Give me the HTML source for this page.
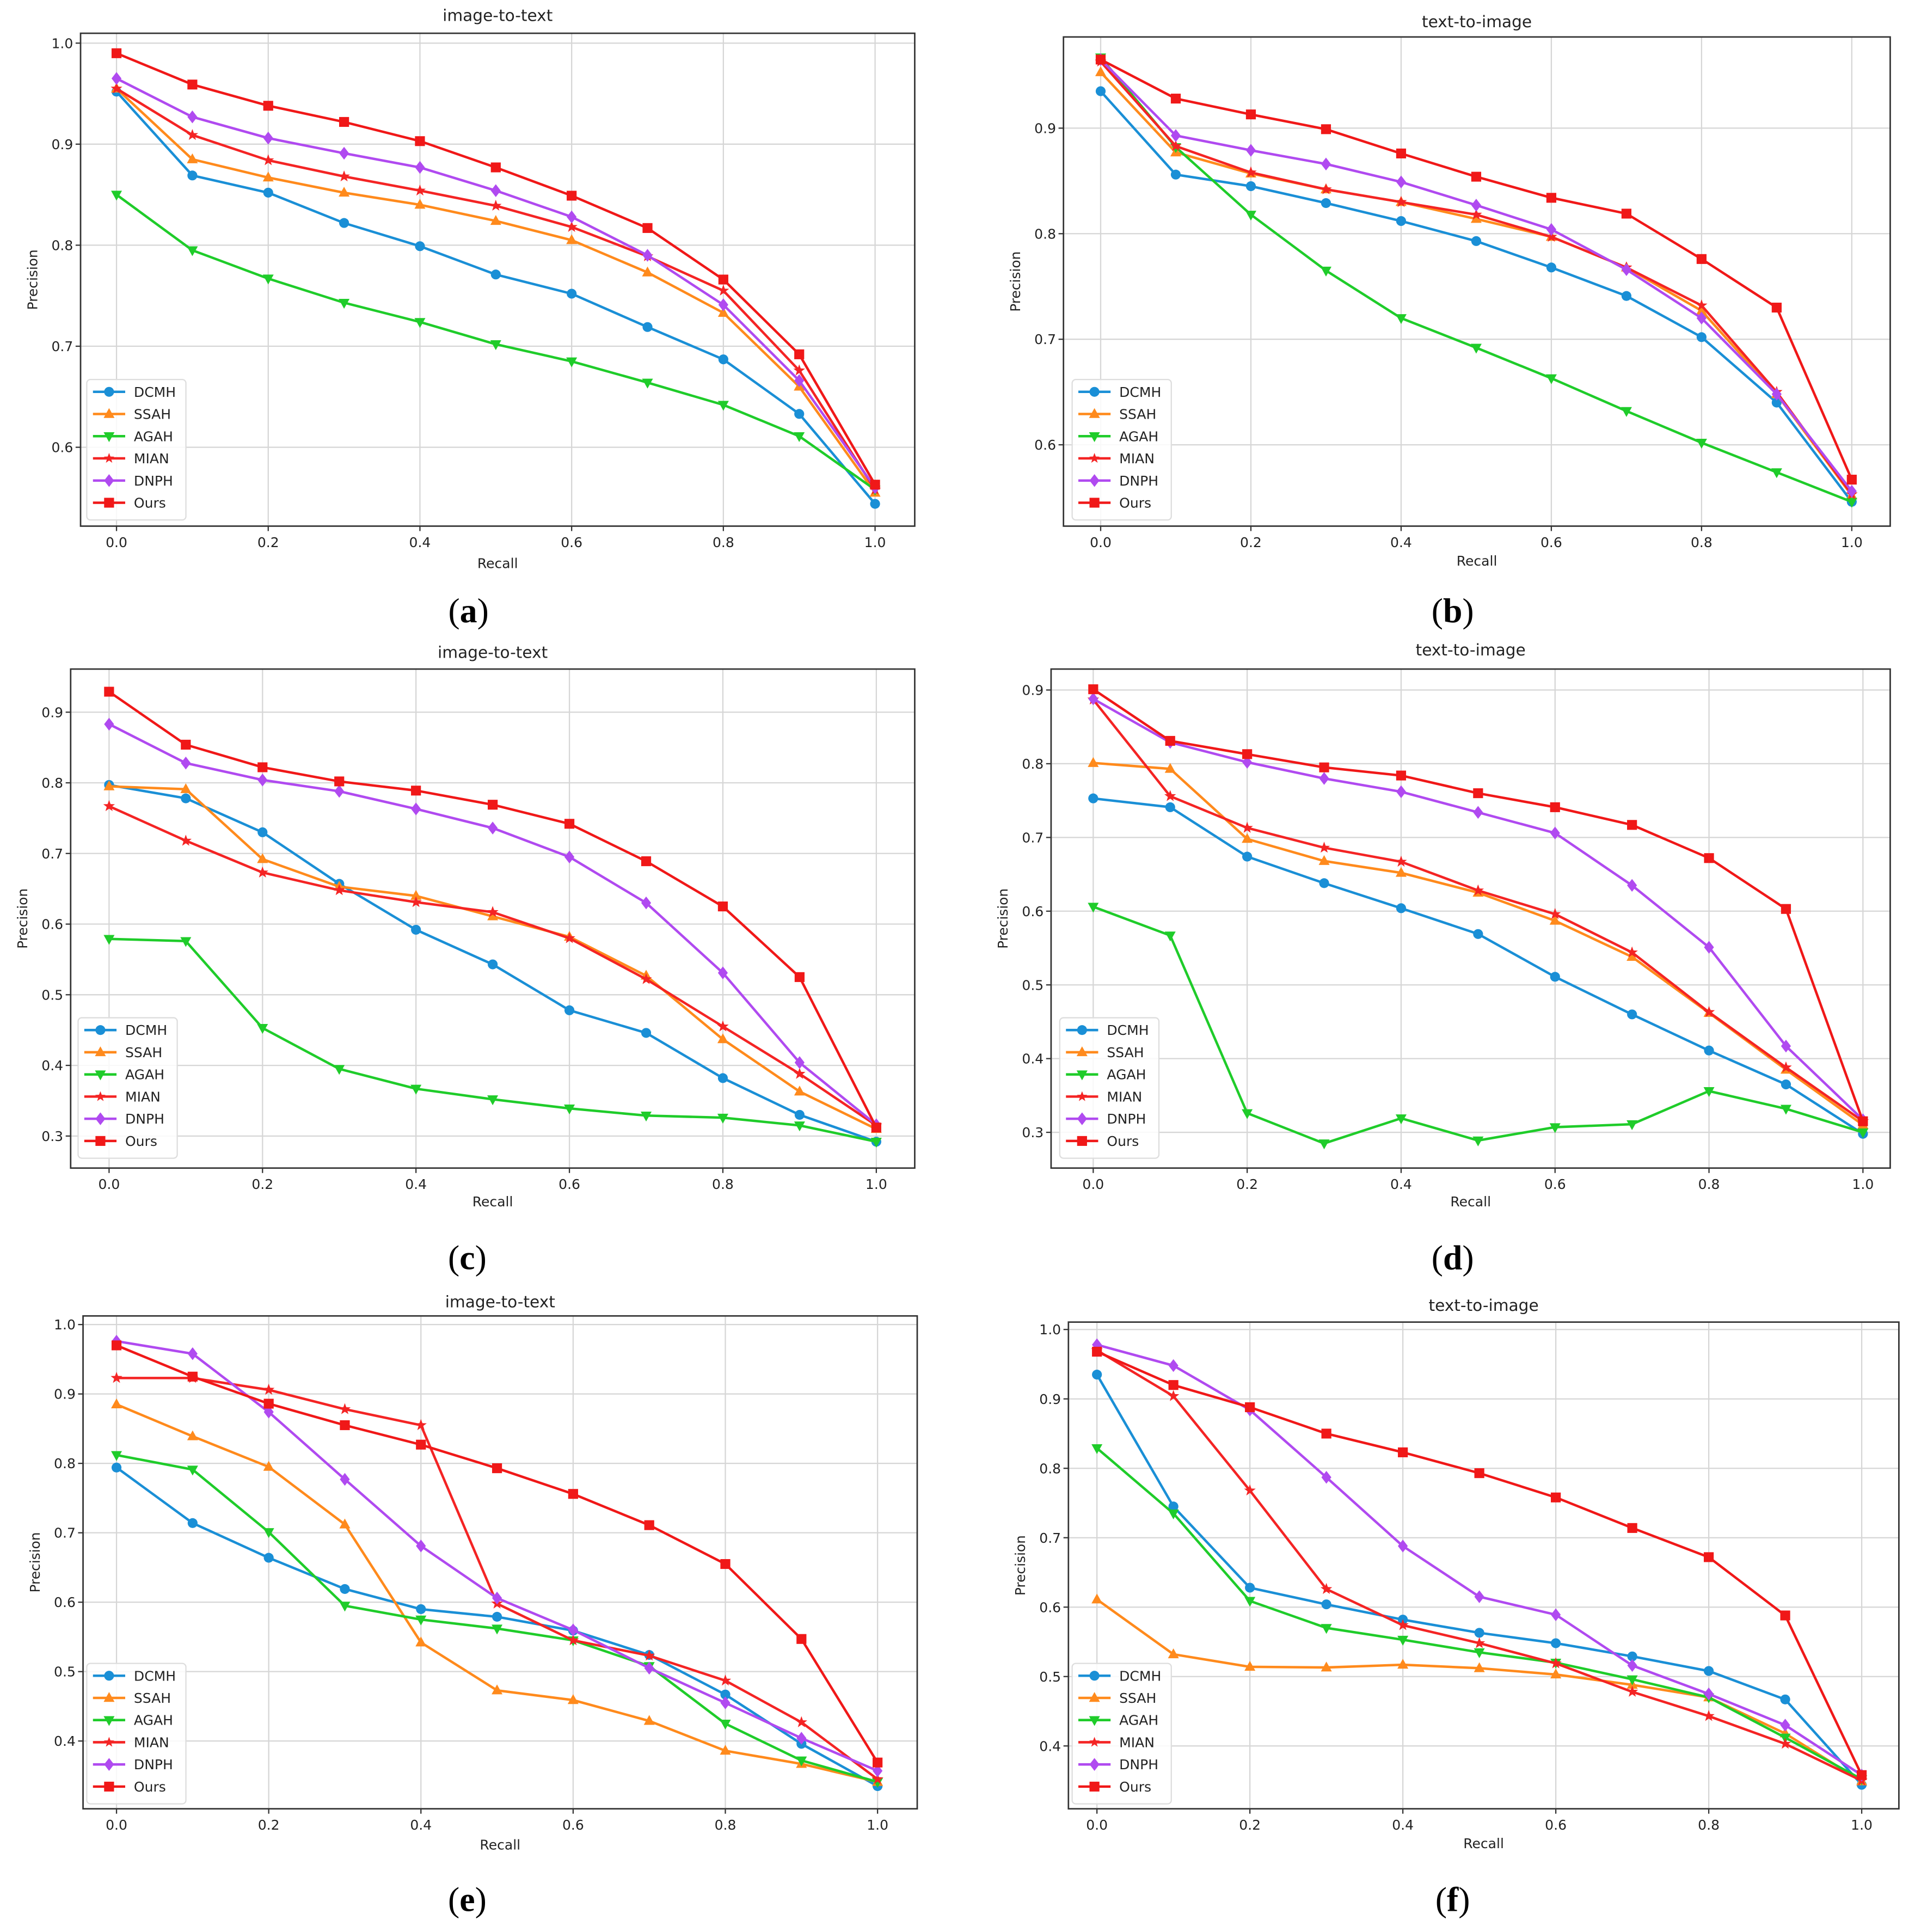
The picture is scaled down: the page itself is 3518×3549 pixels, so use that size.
<!DOCTYPE html>
<html><head><meta charset="utf-8"><style>
html,body{margin:0;padding:0;background:#fff;}
svg{display:block;}
</style></head><body>
<svg id="fig" xmlns="http://www.w3.org/2000/svg" width="3518" height="3549" viewBox="0 0 1545 1568" preserveAspectRatio="none" font-family="'DejaVu Sans','Liberation Sans',sans-serif"></svg>
<script>
const seriesNames = ["DCMH","SSAH","AGAH","MIAN","DNPH","Ours"];
const recall = [0,0.1,0.2,0.3,0.4,0.5,0.6,0.7,0.8,0.9,1.0];
const xTicks = [0,0.2,0.4,0.6,0.8,1.0];
const a_DCMH=[.952,.869,.852,.822,.799,.771,.752,.719,.687,.633,.544];
const a_SSAH=[.955,.885,.867,.852,.840,.824,.805,.773,.733,.660,.555];
const a_AGAH=[.850,.795,.767,.743,.724,.702,.685,.664,.642,.611,.558];
const a_MIAN=[.955,.909,.884,.868,.854,.839,.818,.789,.755,.676,.558];
const a_DNPH=[.965,.927,.906,.891,.877,.854,.828,.790,.741,.666,.560];
const a_Ours=[.990,.959,.938,.922,.903,.877,.849,.817,.766,.692,.563];
const b_DCMH=[.935,.856,.845,.829,.812,.793,.768,.741,.702,.640,.546];
const b_SSAH=[.953,.877,.857,.842,.830,.814,.797,.768,.727,.648,.552];
const b_AGAH=[.967,.882,.818,.765,.720,.692,.663,.632,.602,.574,.546];
const b_MIAN=[.963,.883,.858,.842,.830,.818,.797,.768,.732,.650,.553];
const b_DNPH=[.965,.893,.879,.866,.849,.827,.804,.766,.720,.648,.556];
const b_Ours=[.965,.928,.913,.899,.876,.854,.834,.819,.776,.730,.567];
const c_DCMH=[.797,.778,.730,.657,.592,.543,.478,.446,.382,.330,.292];
const c_SSAH=[.795,.791,.692,.653,.640,.611,.582,.527,.437,.363,.310];
const c_AGAH=[.579,.576,.453,.395,.367,.352,.339,.329,.326,.315,.292];
const c_MIAN=[.767,.718,.673,.648,.631,.617,.580,.522,.455,.388,.315];
const c_DNPH=[.883,.828,.804,.788,.763,.736,.695,.630,.531,.404,.316];
const c_Ours=[.929,.854,.822,.802,.789,.769,.742,.689,.625,.525,.312];
const d_DCMH=[.753,.741,.674,.638,.604,.569,.511,.460,.411,.365,.298];
const d_SSAH=[.801,.793,.698,.668,.652,.625,.587,.538,.462,.385,.310];
const d_AGAH=[.606,.567,.326,.285,.319,.289,.307,.311,.356,.332,.300];
const d_MIAN=[.887,.756,.713,.686,.667,.628,.596,.544,.463,.388,.315];
const d_DNPH=[.888,.829,.802,.780,.762,.734,.706,.635,.551,.417,.317];
const d_Ours=[.901,.831,.813,.795,.784,.760,.741,.717,.672,.603,.315];
const e_DCMH=[.794,.714,.664,.619,.590,.579,.559,.524,.467,.396,.335];
const e_SSAH=[.885,.839,.795,.712,.542,.473,.459,.429,.386,.367,.341];
const e_AGAH=[.812,.791,.701,.595,.575,.562,.545,.508,.425,.372,.341];
const e_MIAN=[.923,.923,.906,.878,.855,.598,.545,.523,.487,.427,.345];
const e_DNPH=[.976,.958,.874,.777,.681,.606,.560,.505,.455,.404,.357];
const e_Ours=[.970,.925,.886,.855,.827,.793,.756,.711,.655,.547,.369];
const f_DCMH=[.935,.745,.628,.604,.582,.563,.548,.529,.508,.467,.344];
const f_SSAH=[.611,.532,.514,.513,.517,.512,.503,.488,.470,.418,.349];
const f_AGAH=[.829,.735,.609,.570,.553,.535,.520,.496,.470,.412,.352];
const f_MIAN=[.970,.904,.768,.626,.574,.548,.519,.478,.443,.403,.350];
const f_DNPH=[.978,.948,.884,.787,.688,.615,.589,.516,.475,.430,.358];
const f_Ours=[.968,.920,.888,.850,.823,.793,.758,.714,.672,.588,.358];
const yTicksA=[0.6,0.7,0.8,0.9,1.0];
const yTicksB=[0.6,0.7,0.8,0.9];
const yTicksCD=[0.3,0.4,0.5,0.6,0.7,0.8,0.9];
const yTicksEF=[0.4,0.5,0.6,0.7,0.8,0.9,1.0];
const titles=["image-to-text","text-to-image","image-to-text","text-to-image","image-to-text","text-to-image"];
const captions=["a","b","c","d","e","f"];

const colors=["#1a8fd6","#ff8a1c","#1fcc2a","#f42424","#b04af0","#f01818"];
const markers=["circle","tri-up","tri-down","star","diamond","square"];
const panels=[
 {box:[65,27,738,427],x0:94,x1:706,yv:[1.0,35,0.6,363],yt:yTicksA,data:[a_DCMH,a_SSAH,a_AGAH,a_MIAN,a_DNPH,a_Ours],ty:13,xl:457,cy:495,cx:378,leg:[70,308]},
 {box:[858,30,1525,427],x0:888,x1:1494,yv:[0.9,104,0.6,361],yt:yTicksB,data:[b_DCMH,b_SSAH,b_AGAH,b_MIAN,b_DNPH,b_Ours],ty:18,xl:455,cy:495,cx:1172,leg:[865,308]},
 {box:[57,543,738,948],x0:88,x1:707,yv:[0.9,578,0.3,922],yt:yTicksCD,data:[c_DCMH,c_SSAH,c_AGAH,c_MIAN,c_DNPH,c_Ours],ty:530,xl:975,cy:1020,cx:377,leg:[63,826]},
 {box:[848,543,1525,948],x0:882,x1:1503,yv:[0.9,560,0.3,919],yt:yTicksCD,data:[d_DCMH,d_SSAH,d_AGAH,d_MIAN,d_DNPH,d_Ours],ty:528,xl:975,cy:1020,cx:1172,leg:[855,826]},
 {box:[67,1068,740,1468],x0:94,x1:708,yv:[1.0,1075,0.4,1413],yt:yTicksEF,data:[e_DCMH,e_SSAH,e_AGAH,e_MIAN,e_DNPH,e_Ours],ty:1057,xl:1497,cy:1541,cx:377,leg:[70,1350]},
 {box:[862,1073,1532,1468],x0:885,x1:1502,yv:[1.0,1079,0.4,1417],yt:yTicksEF,data:[f_DCMH,f_SSAH,f_AGAH,f_MIAN,f_DNPH,f_Ours],ty:1060,xl:1496,cy:1541,cx:1172,leg:[865,1350]}
];
const NS="http://www.w3.org/2000/svg";
const svg=document.getElementById('fig');
function mk(tag,attrs,parent){const e=document.createElementNS(NS,tag);for(const k in attrs)e.setAttribute(k,attrs[k]);(parent||svg).appendChild(e);return e;}
function marker(g,type,x,y,c,s){
 let e;
 if(type==="circle")e=mk('circle',{cx:x,cy:y,r:s},g);
 else if(type==="square")e=mk('rect',{x:x-s,y:y-s,width:2*s,height:2*s},g);
 else if(type==="tri-up")e=mk('polygon',{points:`${x},${y-s*1.2} ${x-s*1.1},${y+s*0.8} ${x+s*1.1},${y+s*0.8}`},g);
 else if(type==="tri-down")e=mk('polygon',{points:`${x},${y+s*1.2} ${x-s*1.1},${y-s*0.8} ${x+s*1.1},${y-s*0.8}`},g);
 else if(type==="diamond")e=mk('polygon',{points:`${x},${y-s*1.3} ${x+s},${y} ${x},${y+s*1.3} ${x-s},${y}`},g);
 else {let p=[];for(let i=0;i<10;i++){const r=i%2?s*0.45:s*1.1;const a=-Math.PI/2+i*Math.PI/5;p.push((x+r*Math.cos(a)).toFixed(1)+","+(y+r*Math.sin(a)).toFixed(1));}e=mk('polygon',{points:p.join(' ')},g);}
 e.setAttribute('fill',c);
 
 
}
panels.forEach((P,pi)=>{
 const g=mk('g',{});
 
 
 const [L,T,R,B]=P.box;
 const X=v=>P.x0+(P.x1-P.x0)*v;
 const Y=v=>P.yv[1]+(v-P.yv[0])*(P.yv[3]-P.yv[1])/(P.yv[2]-P.yv[0]);
 xTicks.forEach(t=>{
  const gl=mk('line',{x1:X(t),x2:X(t),y1:T,y2:B,stroke:'#d6d6d6','stroke-width':1},g);
  
  mk('line',{x1:X(t),x2:X(t),y1:B,y2:B+4,stroke:'#333','stroke-width':1},g);
  const tx=mk('text',{x:X(t),y:B+17,'font-size':11,'text-anchor':'middle',fill:'#222'},g);
  tx.textContent=t.toFixed(1);
  
 });
 P.yt.forEach(t=>{
  const gl=mk('line',{x1:L,x2:R,y1:Y(t),y2:Y(t),stroke:'#d6d6d6','stroke-width':1},g);
  
  mk('line',{x1:L-4,x2:L,y1:Y(t),y2:Y(t),stroke:'#333','stroke-width':1},g);
  const tx=mk('text',{x:L-6,y:Y(t)+4,'font-size':11,'text-anchor':'end',fill:'#222'},g);
  tx.textContent=t.toFixed(1);
  
 });
 const fr=mk('rect',{x:L,y:T,width:R-L,height:B-T,fill:'none',stroke:'#333','stroke-width':1.2},g);
 
 P.data.forEach((vals,si)=>{
  const sg=mk('g',{},g);
  
  
  const pts=vals.map((v,i)=>X(recall[i]).toFixed(1)+","+Y(v).toFixed(1)).join(' ');
  const pl=mk('polyline',{points:pts,fill:'none',stroke:colors[si],'stroke-width':2},sg);
  
  vals.forEach((v,i)=>marker(sg,markers[si],X(recall[i]),Y(v),colors[si],si===3?4.5:4));
 });
 const tt=mk('text',{x:(L+R)/2,y:P.ty+4,'font-size':13,'text-anchor':'middle',fill:'#222'},g);
 tt.textContent=titles[pi];
 const xl=mk('text',{x:(L+R)/2,y:P.xl+4,'font-size':11,'text-anchor':'middle',fill:'#222'},g);
 xl.textContent='Recall';
 const yl=mk('text',{x:0,y:0,'font-size':11,'text-anchor':'middle',fill:'#222',transform:`translate(${L-35},${(T+B)/2}) rotate(-90)`},g);
 yl.textContent='Precision';
 const cp=mk('text',{x:P.cx,y:P.cy+10,'font-size':28,'text-anchor':'middle',fill:'#000','font-family':"'Liberation Serif',serif"},g);
 cp.innerHTML='(<tspan font-weight="bold">'+captions[pi]+'</tspan>)';
 
 const lg=mk('g',{},g);
 
 const [lx,ly]=P.leg;
 mk('rect',{x:lx,y:ly,width:80,height:114,fill:'#fff','fill-opacity':0.85,stroke:'#ddd',rx:3},lg);
 seriesNames.forEach((n,si)=>{
  const ey=ly+10+si*18;
  const eg=mk('g',{},lg);
  
  mk('line',{x1:lx+5,x2:lx+31,y1:ey,y2:ey,stroke:colors[si],'stroke-width':2},eg);
  marker(eg,markers[si],lx+18,ey,colors[si],4);
  const t=mk('text',{x:lx+38,y:ey+4,'font-size':11,fill:'#222'},eg);
  t.textContent=n;
 });
});
</script>
</body></html>
